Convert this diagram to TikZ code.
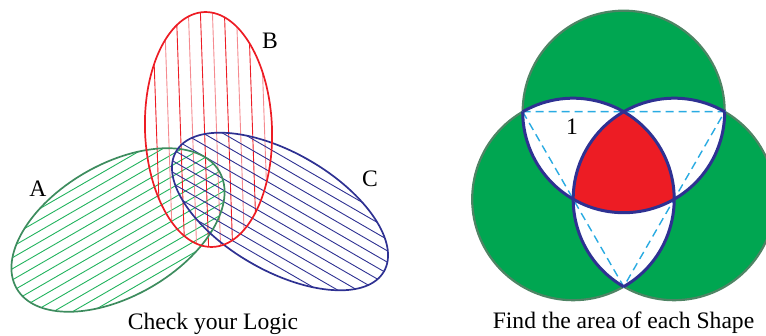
\documentclass[tikz,border=0pt]{standalone}
\usepackage{fontspec}
\setmainfont{Liberation Serif}
\definecolor{agreen}{HTML}{3D8C5E}
\definecolor{hgreen}{HTML}{22B35E}
\definecolor{bred}{HTML}{ED1C24}
\definecolor{lred}{HTML}{F58A8F}
\definecolor{cblue}{HTML}{2E3192}
\definecolor{vgreen}{HTML}{00A651}
\definecolor{vline}{HTML}{4E8464}
\definecolor{dcyan}{HTML}{29ABE2}
\begin{document}
\begin{tikzpicture}[x=1pt,y=1pt,
  lbl/.style={font=\fontsize{23.6}{28}\selectfont, inner sep=0pt},
  hatchA/.style={hgreen, line width=0.9pt},
  hatchC/.style={cblue, line width=0.9pt},
  hatchB/.style={bred, line width=0.9pt},
  hatchBl/.style={lred, line width=0.9pt},
  outA/.style={agreen, line width=1.7pt},
  outB/.style={bred, line width=1.7pt},
  outC/.style={cblue, line width=1.7pt},
  greencirc/.style={fill=vgreen},
  greenrim/.style={draw=vline, line width=2.2pt},
  bluearc/.style={cblue, line width=3pt},
  dashline/.style={dcyan, line width=1.4pt, dash pattern=on 8pt off 5pt}]
\useasboundingbox (0,0) rectangle (766,335);
\clip (0,0) rectangle (766,335);

% ---------- Left figure: hatched ellipses ----------
\begin{scope}[shift={(118,105)},rotate=30]
  \clip (0,0) ellipse [x radius=117, y radius=66];
  \foreach \k in {-7,...,7} \draw[hatchA] (-130,\k*9.6) -- (130,\k*9.6);
\end{scope}
\begin{scope}[shift={(208.5,205.5)},rotate=2]
  \clip (0,0) ellipse [x radius=63.5, y radius=117.5];
  \foreach \k in {-6,-4,...,6} \draw[hatchB] (\k*12-4,-130) -- (\k*12-4,130);
  \foreach \k in {-5,-3,...,5} \draw[hatchBl] (\k*12-4,-130) -- (\k*12-4,130);
\end{scope}
\begin{scope}[shift={(280,123.5)},rotate=-30]
  \clip (0,0) ellipse [x radius=120, y radius=59];
  \foreach \k in {-6,...,6} \draw[hatchC] (-130,\k*9.8) -- (130,\k*9.8);
\end{scope}
\draw[outA, shift={(118,105)}, rotate=30] (0,0) ellipse [x radius=117, y radius=66];
\draw[outC, shift={(280,123.5)}, rotate=-30] (0,0) ellipse [x radius=120, y radius=59];
\draw[outB, shift={(208.5,205.5)}, rotate=2] (0,0) ellipse [x radius=63.5, y radius=117.5];

\node[lbl] (lA) at (38,146) {A};
\node[lbl] (lB) at (270,294) {B};
\node[lbl] (lC) at (370,156) {C};
\node[lbl, anchor=base] (cap1) at (213,5.5) {Check your Logic};

% ---------- Right figure: three circles ----------
\coordinate (T) at (623.7,223.3);
\coordinate (L) at (573.2,135.8);
\coordinate (R) at (674.2,135.8);
\coordinate (P1) at ([shift={(180:101)}]T);
\coordinate (P2) at ([shift={(0:101)}]T);
\coordinate (P3) at ([shift={(-60:101)}]L);

\foreach \c in {T,L,R} \fill[greencirc] (\c) circle (101);
\foreach \c in {T,L,R} \draw[greenrim] (\c) circle (101);

\begin{scope}
  \clip (T) circle (101);
  \fill[white] (L) circle (101);
  \fill[white] (R) circle (101);
\end{scope}
\begin{scope}
  \clip (L) circle (101);
  \fill[white] (R) circle (101);
\end{scope}
\begin{scope}
  \clip (T) circle (101);
  \clip (L) circle (101);
  \fill[bred] (R) circle (101);
\end{scope}

\draw[dashline] (P1) -- (P2) -- (P3) -- cycle;

\draw[bluearc] ([shift={(-60:101)}]L) arc[start angle=-60, end angle=120, radius=101];
\draw[bluearc] ([shift={(60:101)}]R) arc[start angle=60, end angle=240, radius=101];
\draw[bluearc] ([shift={(180:101)}]T) arc[start angle=180, end angle=360, radius=101];

\node[lbl] (one) at (572,208) {1};
\node[lbl, anchor=base] (cap2) at (623.5,7) {Find the area of each Shape};
\end{tikzpicture}
\end{document}
